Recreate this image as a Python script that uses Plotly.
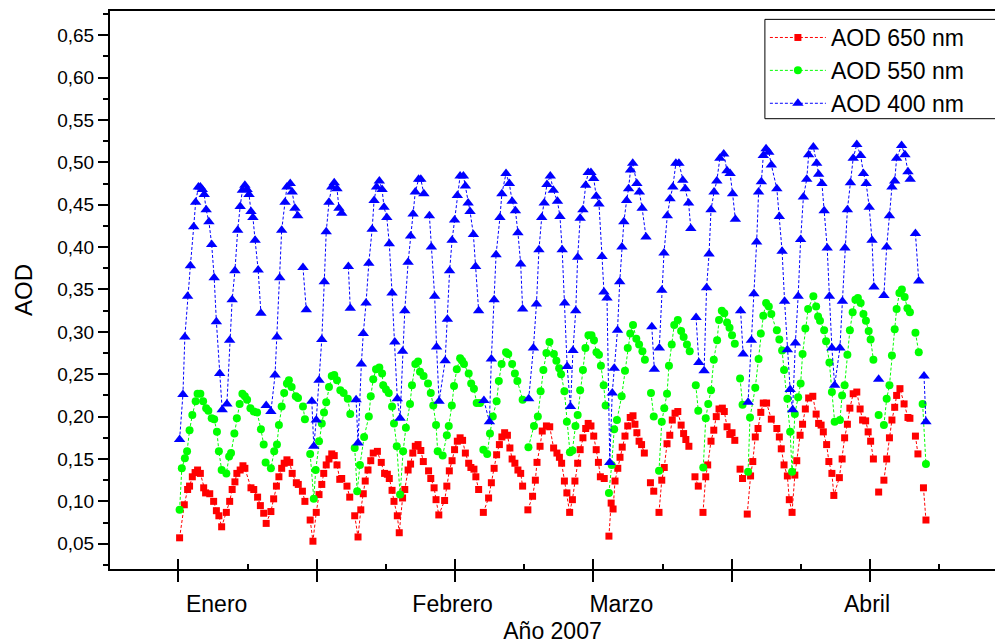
import plotly.graph_objects as go

# ---------------- data ----------------
# x: time index (major tick every 50 units), y: AOD.  None = gap in the record.
MONTHS = ["Enero", "Febrero", "Marzo", "Abril"]
MONTH_POS = [13.8, 99.1, 160.1, 248.9]

AOD400_X = [0.4, 1.6, 2.3, 3.3, 4.3, 5.5, 6.2, 7.2, 7.9, 8.6, 9.3, 10.0, 11.0, 12.0, 12.9, 13.7, 14.9, 15.8,
            17.5, 18.5, 19.4, 20.4, 21.4, 22.3, 23.1, 24.0, 24.8, 25.5, 26.2, 26.9, 27.7, 28.8, 29.8, None,
            31.7, 33.4, 34.9, 35.6, 36.6, 37.3, 38.5, 39.2, 40.4, 41.1, 42.1, 43.1, None,
            45.0, 46.2, None,
            48.2, 48.9, 49.8, 50.8, 51.8, 52.7, 53.4, 54.4, 55.4, 56.3, 57.3, 58.0, 59.0, None,
            61.4, 62.1, None,
            64.2, 64.9, 66.1, 66.8, 67.8, 68.8, 70.0, 70.7, 71.6, 72.6, 73.6, 74.3, 75.3, 76.2, 77.2, 78.2, 79.1, 80.1,
            81.0, 81.8, 83.0, 83.9, 84.8, 85.6, 86.8, 87.6, 88.7, None,
            90.7, 91.4, 92.6, 93.3, 94.2, 96.4, 97.2, 98.0, 98.9, 99.8, 100.8, 101.8, 103.0, 103.7, 104.7, 105.4,
            106.6, 107.4, 108.5, None,
            110.4, 112.4, 113.1, 114.1, 114.8, 116.2, 116.9, 118.4, 119.6, 120.6, 121.8, 122.7, 123.7, 124.4, None,
            126.6, 128.3, 129.4, 130.3, 131.3, 132.2, 133.2, 134.4, 135.5, 137.0, 137.9, 138.7, 139.6, 140.5, 141.7,
            142.6, 143.6, 144.3, 145.2, 146.2, 147.2, 148.1, 149.1, 150.1, 151.0, 152.0, 153.1, 153.8, None,
            154.9, 155.9, 156.8, 157.5, 158.7, 159.5, 160.3, 161.0, 162.0, 162.7, 163.4, 164.2, 165.7, 166.6, 167.6,
            169.0, None,
            171.1, 172.0, None,
            173.8, 174.7, 175.5, 176.7, 177.7, 178.7, 179.8, 180.9, 182.3, 183.2, 184.4, 185.2, None,
            187.1, 188.1, None,
            190.0, 190.9, 191.8, 192.5, 193.6, 194.6, 195.7, 197.1, 198.3, 199.4, 200.3, 201.3, None,
            203.2, 204.1, None,
            205.9, 207.1, 208.0, 209.0, 209.7, 210.7, 211.4, 212.4, 213.4, 214.3, 216.3, 217.2, 218.2, 219.1, 220.1,
            221.1, 222.0, 223.0, 224.0, 224.9, 225.9, 227.1, 227.8, 229.5, 230.7, 231.4, 232.6, 233.4, 234.5, 235.3,
            236.2, 237.2, 239.1, 240.0, 240.9, 241.8, 242.9, 243.9, 245.2, 246.6, 247.6, 248.6, 249.7, 250.7, 251.4,
            None,
            253.1, None,
            255.0, 256.0, 257.0, 257.9, 258.9, 259.6, 261.4, 262.6, 263.7, 264.5, None,
            266.4, 267.6, None,
            269.5, 270.2]
AOD400_Y = [0.173, 0.226, 0.294, 0.342, 0.378, 0.424, 0.453, 0.471, 0.471, 0.468, 0.462, 0.444, 0.430, 0.403, 0.364,
            0.312, 0.251, 0.208,
            0.215, 0.290, 0.338, 0.372, 0.420, 0.448, 0.467, 0.473, 0.468, 0.462, 0.442, 0.435, 0.408, 0.373, 0.322, None,
            0.213, 0.206, 0.249, 0.294, 0.364, 0.420, 0.453, 0.471, 0.475, 0.465, 0.446, 0.437, None,
            0.376, 0.326, None,
            0.218, 0.165, 0.196, 0.243, 0.291, 0.359, 0.418, 0.453, 0.471, 0.476, 0.469, 0.446, 0.440, None,
            0.377, 0.328, None,
            0.220, 0.169, 0.262, 0.298, 0.334, 0.381, 0.421, 0.455, 0.471, 0.478, 0.468, 0.447, 0.435, 0.404, 0.346,
            0.288, 0.221, 0.198,
            0.277, 0.325, 0.382, 0.413, 0.439, 0.465, 0.480, 0.480, 0.463, None,
            0.437, 0.400, 0.342, 0.282, 0.218, 0.266, 0.315, 0.372, 0.408, 0.432, 0.461, 0.484, 0.484, 0.472, 0.452,
            0.442, 0.415, 0.377, 0.325, None,
            0.219, 0.194, 0.268, 0.338, 0.391, 0.435, 0.463, 0.487, 0.475, 0.454, 0.443, 0.417, 0.380, 0.327, None,
            0.221, 0.281, 0.333, 0.397, 0.435, 0.452, 0.474, 0.484, 0.467, 0.454, 0.436, 0.397, 0.334, 0.259, 0.212,
            0.278, 0.325, 0.388, 0.434, 0.444, 0.473, 0.488, 0.488, 0.481, 0.460, 0.451, 0.389, 0.347, None,
            0.340, 0.146, 0.228, 0.257, 0.302, 0.359, 0.400, 0.430, 0.455, 0.469, 0.491, 0.499, 0.475, 0.465, 0.446,
            0.412, None,
            0.306, 0.256, None,
            0.281, 0.349, 0.393, 0.437, 0.457, 0.471, 0.499, 0.499, 0.479, 0.469, 0.452, 0.422, None,
            0.317, 0.264, None,
            0.254, 0.352, 0.392, 0.444, 0.465, 0.478, 0.505, 0.510, 0.490, 0.487, 0.463, 0.433, None,
            0.325, 0.274, None,
            0.217, 0.290, 0.345, 0.406, 0.465, 0.477, 0.508, 0.516, 0.512, 0.497, 0.469, 0.436, 0.395, 0.336, 0.279,
            0.232, 0.208, 0.287, 0.342, 0.409, 0.459, 0.480, 0.509, 0.518, 0.499, 0.486, 0.475, 0.443, 0.399, 0.342,
            0.281, 0.237, 0.281, 0.336, 0.399, 0.444, 0.476, 0.505, 0.521, 0.508, 0.487, 0.475, 0.447, 0.408, 0.353,
            None,
            0.244, None,
            0.343, 0.400, 0.437, 0.471, 0.478, 0.505, 0.520, 0.509, 0.489, 0.480, None,
            0.416, 0.360, None,
            0.248, 0.194]

AOD550_X = [0.4, 1.2, 2.3, 3.1, 4.0, 5.0, 6.2, 6.9, 7.9, 8.9, 10.0, 10.8, 12.0, 12.9, 13.9, 14.6, 15.6, 17.3, 18.3,
            19.0, 20.2, 21.1, 22.1, 23.1, 24.0, 24.8, 26.0, 27.2, 28.4, 29.8, 30.8, None,
            31.5, 33.4, 34.6, 35.6, 36.3, 37.3, 38.2, 39.2, 39.9, 40.9, 42.4, 43.2, None,
            45.0, 45.7, None,
            47.6, 48.9, 49.6, 50.8, 51.8, 52.6, 53.4, 54.4, 55.4, 56.3, 57.3, 58.5, 59.7, None,
            61.2, 62.1, None,
            63.7, 64.6, 65.6, 67.1, 68.8, 69.5, 70.4, 71.4, 72.6, 73.6, 74.0, 75.0, 76.0, 77.2, 77.9, 78.9, 80.1,
            81.2, 82.2, 83.7, 84.4, 85.6, 86.6, 87.3, 88.6, None,
            90.2, 91.2, 92.1, 93.1, 93.7, 95.5, 97.0, 97.7, 98.8, 99.6, 100.6, 101.8, 102.5, 103.2, 104.9, 105.8,
            106.8, 107.8, 109.0, None,
            110.2, 111.6, 112.6, 113.6, 115.0, 115.8, 116.8, 118.4, 119.2, 120.6, 121.6, 122.5, 124.4, None,
            126.5, 128.5, 129.9, 130.9, 131.9, 133.0, 134.1, 135.7, 136.6, 137.6, 138.3, 139.5, 140.4, 141.5,
            142.4, 143.5, 144.3, 145.2, 146.2, 147.1, 148.2, 149.3, 150.2, 151.1, 152.0, 152.7, 153.7, 154.4, None,
            155.6, 156.6, 157.5, 158.5, 160.2, 161.4, 162.4, 163.3, 164.3, 165.5, 166.5, 167.7, 168.6, None,
            170.8, 171.8, None,
            173.7, 174.7, 175.6, 176.6, 177.3, 178.3, 179.2, 180.5, 181.7, 182.6, 183.8, 184.8, None,
            187.0, 187.9, None,
            189.7, 190.6, 191.5, 192.5, 193.5, 194.7, 195.4, 196.4, 197.3, 198.3, 199.2, 200.1, 201.1, None,
            203.0, 203.9, None,
            205.9, 206.6, 208.5, 209.7, 210.5, 211.4, 212.4, 213.4, 214.3, 216.3, 217.2, 218.2, 218.9, 220.1, 221.1,
            221.8, 222.8, 224.0, 224.9, 225.6, 226.6, 227.6, 229.5, 230.5, 231.2, 231.9, 233.4, 234.1, 235.3, 236.2,
            237.2, 239.1, 239.9, 240.8, 241.8, 242.7, 243.7, 244.7, 245.6, 246.6, 247.6, 248.5, 249.5, 250.2, 251.2,
            None,
            253.1, None,
            255.0, 256.0, 257.0, 257.9, 258.9, 259.6, 260.6, 261.5, 262.5, 263.5, 264.4, None,
            266.4, 267.6, None,
            269.0, 270.2]
AOD550_Y = [0.090, 0.139, 0.151, 0.159, 0.184, 0.202, 0.218, 0.227, 0.227, 0.218, 0.210, 0.207, 0.198, 0.197, 0.182,
            0.159, 0.137, 0.133, 0.153, 0.157, 0.180, 0.198, 0.215, 0.227, 0.224, 0.220, 0.210, 0.206, 0.205, 0.185,
            0.167, None,
            0.146, 0.139, 0.159, 0.167, 0.190, 0.212, 0.228, 0.239, 0.243, 0.235, 0.224, 0.222, None,
            0.212, 0.197, None,
            0.156, 0.103, 0.137, 0.171, 0.192, 0.205, 0.217, 0.235, 0.248, 0.249, 0.243, 0.231, 0.228, None,
            0.221, 0.203, None,
            0.163, 0.112, 0.143, 0.176, 0.200, 0.224, 0.244, 0.256, 0.258, 0.251, 0.237, 0.232, 0.228, 0.212, 0.192,
            0.165, 0.108, 0.159, 0.187, 0.215, 0.237, 0.262, 0.265, 0.253, 0.248, None,
            0.239, 0.228, 0.213, 0.190, 0.159, 0.154, 0.178, 0.189, 0.213, 0.236, 0.256, 0.269, 0.266, 0.262, 0.251,
            0.239, 0.233, 0.216, 0.216, None,
            0.161, 0.156, 0.180, 0.200, 0.218, 0.242, 0.262, 0.276, 0.274, 0.262, 0.251, 0.242, 0.220, None,
            0.164, 0.189, 0.200, 0.230, 0.255, 0.275, 0.288, 0.274, 0.266, 0.257, 0.250, 0.230, 0.194, 0.158,
            0.160, 0.189, 0.202, 0.231, 0.255, 0.281, 0.296, 0.296, 0.290, 0.276, 0.273, 0.260, 0.237, 0.213, None,
            0.110, 0.143, 0.185, 0.196, 0.224, 0.254, 0.281, 0.298, 0.308, 0.292, 0.285, 0.277, 0.267, None,
            0.228, 0.200, None,
            0.136, 0.194, 0.210, 0.227, 0.260, 0.285, 0.308, 0.314, 0.301, 0.294, 0.285, 0.277, None,
            0.237, 0.207, None,
            0.140, 0.198, 0.215, 0.231, 0.267, 0.290, 0.314, 0.325, 0.322, 0.311, 0.305, 0.296, 0.286, None,
            0.245, 0.214, None,
            0.135, 0.199, 0.234, 0.268, 0.298, 0.319, 0.334, 0.330, 0.321, 0.302, 0.291, 0.278, 0.255, 0.221, 0.182,
            0.135, 0.203, 0.223, 0.239, 0.274, 0.304, 0.327, 0.342, 0.330, 0.318, 0.313, 0.302, 0.289, 0.264, 0.229,
            0.194, 0.196, 0.225, 0.237, 0.273, 0.302, 0.323, 0.338, 0.340, 0.334, 0.321, 0.313, 0.301, 0.291, 0.267,
            None,
            0.202, None,
            0.190, 0.221, 0.237, 0.272, 0.303, 0.327, 0.346, 0.350, 0.341, 0.328, 0.323, None,
            0.299, 0.276, None,
            0.215, 0.144]

AOD650_X = [0.4, 2.1, 3.3, 4.0, 5.0, 6.0, 6.9, 7.9, 9.1, 9.8, 11.3, 12.7, 13.7, 14.6, 15.6,
            17.3, 18.5, 19.4, 20.4, 21.1, 22.3, 23.3, 24.0, 26.2, 27.2, 28.6, 29.6, 30.8, None,
            31.7, 33.4, 34.4, 35.4, 36.3, 37.3, 38.2, 39.2, 40.2, 41.1, 42.6, 43.3, None,
            44.8, 45.7, None,
            47.6, 48.6, 49.8, 50.8, 51.8, 52.5, 53.4, 54.4, 55.4, 56.3, 57.3, 58.3, 59.0, None,
            60.9, 61.9, None,
            63.7, 64.9, 65.9, 66.8, 67.5, 68.5, 69.5, 70.4, 71.9, 73.3, 74.5, 75.5, 76.2, 77.2, 77.9, 79.1, 79.8,
            81.0, 81.8, 83.0, 83.9, 84.7, 85.6, 86.6, 87.6, 88.5, None,
            90.4, 91.2, 92.4, 93.1, 94.1, 96.2, 97.0, 97.9, 98.9, 99.8, 100.8, 101.8, 102.7, 103.7, 104.9, 105.7,
            106.8, 107.5, 108.5, None,
            110.2, 112.1, 113.1, 114.1, 115.0, 116.0, 116.9, 117.9, 118.9, 119.8, 120.6, 121.6, 122.7, 123.7, 124.4,
            None,
            126.3, 128.0, 129.0, 129.6, 130.7, 131.5, 133.0, 134.2, 135.6, 136.8, 137.7, 138.5, 139.5, 140.4, 141.4,
            142.4, 143.3, 144.3, 145.2, 146.2, 147.2, 148.1, 149.1, 150.1, 151.0, 151.8, 152.5, 153.9, None,
            155.6, 156.4, 157.1, 157.8, 158.8, 159.6, 160.4, 161.4, 162.4, 163.3, 164.3, 165.0, 165.7, 166.5, 167.4,
            168.4, None,
            170.6, 171.8, None,
            173.7, 174.7, 175.6, 176.6, 177.6, 178.5, 179.5, 180.5, 181.7, 182.6, 183.4, 184.5, None,
            186.7, 187.9, None,
            189.6, 190.6, 191.3, 192.5, 193.5, 194.4, 195.4, 196.6, 197.3, 198.3, 199.3, 200.1, 201.1, None,
            203.0, 203.9, None,
            205.6, 206.8, 207.6, 208.5, 209.5, 210.5, 211.4, 212.6, 214.3, 216.3, 217.2, 217.9, 218.9, 220.1, 220.8,
            221.8, 222.8, 223.5, 224.7, 225.6, 226.6, 227.8, 229.3, 230.5, 231.4, 232.3, 233.1, 234.3, 235.1, 236.2,
            236.9, 238.9, 239.9, 240.8, 241.8, 242.7, 243.9, 245.2, 246.4, 247.3, 248.4, 249.3, 250.2, 251.2, None,
            253.1, None,
            255.0, 256.0, 257.0, 257.9, 258.9, 259.6, 260.8, 262.3, 263.7, 264.4, None,
            266.4, 267.3, None,
            269.3, 270.2]
AOD650_Y = [0.057, 0.096, 0.114, 0.118, 0.129, 0.134, 0.137, 0.133, 0.116, 0.110, 0.109, 0.100, 0.089, 0.083, 0.070,
            0.087, 0.100, 0.114, 0.123, 0.133, 0.137, 0.142, 0.139, 0.116, 0.114, 0.105, 0.095, 0.086, None,
            0.074, 0.088, 0.103, 0.118, 0.129, 0.139, 0.145, 0.149, 0.146, 0.133, 0.122, 0.120, None,
            0.112, 0.100, None,
            0.078, 0.053, 0.087, 0.108, 0.120, 0.133, 0.143, 0.150, 0.156, 0.154, 0.143, 0.126, 0.127, None,
            0.118, 0.105, None,
            0.083, 0.058, 0.090, 0.109, 0.124, 0.137, 0.148, 0.157, 0.159, 0.146, 0.133, 0.132, 0.127, 0.113, 0.100,
            0.083, 0.063, 0.104, 0.114, 0.137, 0.144, 0.157, 0.165, 0.167, 0.160, 0.147, None,
            0.136, 0.127, 0.116, 0.102, 0.084, 0.101, 0.118, 0.136, 0.148, 0.161, 0.171, 0.175, 0.172, 0.157, 0.145,
            0.140, 0.138, 0.129, 0.114, None,
            0.087, 0.104, 0.122, 0.139, 0.155, 0.167, 0.176, 0.181, 0.178, 0.163, 0.150, 0.145, 0.137, 0.133, 0.118,
            None,
            0.090, 0.106, 0.125, 0.146, 0.165, 0.183, 0.189, 0.188, 0.163, 0.157, 0.152, 0.145, 0.124, 0.110, 0.087,
            0.102, 0.124, 0.145, 0.161, 0.175, 0.186, 0.192, 0.189, 0.177, 0.161, 0.146, 0.129, 0.127, None,
            0.059, 0.098, 0.091, 0.124, 0.139, 0.152, 0.164, 0.177, 0.189, 0.199, 0.201, 0.191, 0.181, 0.171, 0.167,
            0.157, None,
            0.122, 0.112, None,
            0.087, 0.125, 0.140, 0.168, 0.178, 0.196, 0.204, 0.206, 0.190, 0.180, 0.173, 0.165, None,
            0.129, 0.118, None,
            0.087, 0.129, 0.143, 0.171, 0.184, 0.200, 0.209, 0.210, 0.206, 0.188, 0.179, 0.181, 0.172, None,
            0.138, 0.127, None,
            0.085, 0.130, 0.147, 0.176, 0.186, 0.205, 0.216, 0.216, 0.197, 0.186, 0.176, 0.162, 0.143, 0.130, 0.102,
            0.087, 0.131, 0.148, 0.178, 0.191, 0.209, 0.222, 0.224, 0.203, 0.192, 0.190, 0.182, 0.167, 0.147, 0.133,
            0.107, 0.128, 0.150, 0.175, 0.191, 0.210, 0.227, 0.229, 0.209, 0.196, 0.195, 0.182, 0.171, 0.150, None,
            0.111, None,
            0.125, 0.150, 0.175, 0.196, 0.211, 0.225, 0.233, 0.215, 0.199, 0.198, None,
            0.177, 0.156, None,
            0.116, 0.078]

SERIES = [
    ("AOD 650 nm", AOD650_X, AOD650_Y, "#FF0000", "square", 7),
    ("AOD 550 nm", AOD550_X, AOD550_Y, "#00FF00", "circle", 8),
    ("AOD 400 nm", AOD400_X, AOD400_Y, "#0000FF", "triangle-up", 10),
]

X_RANGE = [-24.76, 295.16]
Y_RANGE = [0.0202, 0.6786]
FONT = "Liberation Sans, Arial, sans-serif"

fig = go.Figure()
for name, xs, ys, color, symbol, size in SERIES:
    fig.add_trace(go.Scatter(
        x=xs, y=ys, mode="lines+markers", name=name, connectgaps=False,
        line=dict(color=color, width=1, dash="3px,2px"),
        marker=dict(symbol=symbol, size=size, color=color, line=dict(width=0)),
    ))

# helper (empty) traces so the overlay axes are drawn
fig.add_trace(go.Scatter(x=[], y=[], xaxis="x2", showlegend=False, hoverinfo="skip"))
fig.add_trace(go.Scatter(x=[], y=[], xaxis="x3", showlegend=False, hoverinfo="skip"))

fig.update_layout(
    width=995, height=644,
    margin=dict(l=110, r=0, t=11, b=75),
    paper_bgcolor="white", plot_bgcolor="white",
    separators=", ",
    font=dict(family=FONT, color="black", size=19),
    showlegend=True,
    xaxis=dict(
        range=X_RANGE, showgrid=False, zeroline=False,
        showline=True, linewidth=2, linecolor="black", mirror=True,
        ticks="outside", ticklen=11, tickwidth=2, tickcolor="black",
        tick0=0, dtick=50, showticklabels=False,
        minor=dict(ticks="inside", ticklen=5, tickwidth=1.5, tickcolor="black",
                   tick0=0, dtick=25, showgrid=False),
        title=dict(text="Año 2007", font=dict(size=23, family=FONT), standoff=42),
    ),
    xaxis2=dict(
        overlaying="x", anchor="y", range=X_RANGE, showgrid=False, zeroline=False,
        showline=False, ticks="inside", ticklen=10, tickwidth=2, tickcolor="black",
        tick0=0, dtick=50, showticklabels=False,
    ),
    xaxis3=dict(
        overlaying="x", anchor="y", range=X_RANGE, showgrid=False, zeroline=False,
        showline=False, tickmode="array", tickvals=MONTH_POS, ticktext=MONTHS,
        ticks="outside", ticklen=14, tickcolor="rgba(0,0,0,0)",
        tickfont=dict(size=23, family=FONT),
    ),
    yaxis=dict(
        range=Y_RANGE, showgrid=False, zeroline=False,
        showline=True, linewidth=2, linecolor="black",
        ticks="outside", ticklen=10, tickwidth=2, tickcolor="black",
        tick0=0.05, dtick=0.05, tickformat=".2f",
        tickfont=dict(size=19, family=FONT),
        minor=dict(ticks="outside", ticklen=5, tickwidth=1.5, tickcolor="black",
                   tick0=0.025, dtick=0.025, showgrid=False),
        title=dict(text="AOD", font=dict(size=24, family=FONT), standoff=18),
    ),
    legend=dict(
        x=0.740, y=0.991, xanchor="left", yanchor="top",
        bgcolor="rgba(0,0,0,0)", borderwidth=0,
        itemwidth=56,
        font=dict(size=23, family=FONT),
    ),
    # legend frame (runs past the right edge of the picture, as in the original)
    shapes=[dict(type="rect", xref="paper", yref="paper", x0=0.740, x1=1.02, y0=0.807, y1=0.985,
                 line=dict(color="black", width=1), fillcolor="white", layer="above")],
)

fig.write_html("out.html")
